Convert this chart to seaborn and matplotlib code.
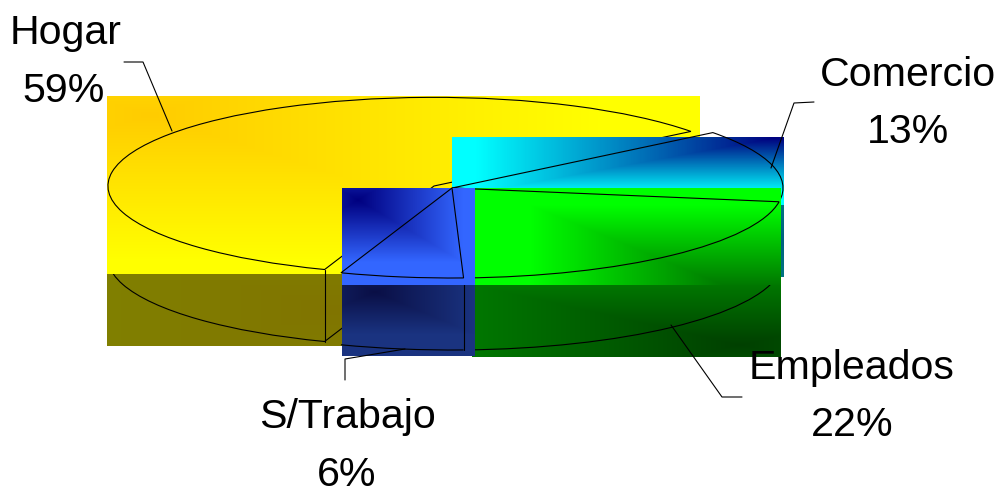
import numpy as np
import matplotlib
matplotlib.use("Agg")
import matplotlib.pyplot as plt
from matplotlib.patches import Arc
import seaborn as sns

categories = ["Hogar", "S/Trabajo", "Empleados", "Comercio"]
values = [59, 6, 22, 13]

sns.set_theme(style="white")
plt.rcParams["font.family"] = ["Liberation Sans", "DejaVu Sans"]

W, H = 1000, 491
# pie centre and radii in picture pixels, the unit circle becomes this ellipse
CX, CY, RX, RY = 452, 188, 331, 90
DEPTH = 72 / RY
HOGAR_R = 0.985


def ux(x):
    return (x - CX) / RX


def uy(y):
    return (CY - y) / RY


def gradient(ax, box, centre, reach, c0, c1, z):
    # rectangular path gradient like the old office export
    x0, x1, y0, y1 = box
    xx, yy = np.meshgrid(np.arange(x0, x1) + 0.5, np.arange(y0, y1) + 0.5)
    t = np.maximum(np.abs(xx - centre[0]) / reach[0], np.abs(yy - centre[1]) / reach[1])
    cmap = sns.blend_palette([c0, c1], as_cmap=True)
    ax.imshow(np.clip(t, 0, 1), cmap=cmap, vmin=0, vmax=1, aspect="auto", interpolation="nearest",
              extent=(ux(x0), ux(x1), uy(y1), uy(y0)), zorder=z)


fig = plt.figure(figsize=(W / 100, H / 100), dpi=100)
ax = fig.add_axes([0, 0, 1, 1])

wedges, _ = ax.pie(values, startangle=38,
                   wedgeprops=dict(facecolor="none", edgecolor="black", linewidth=0.8))
low_wedges, _ = ax.pie(values, startangle=38, center=(0, -DEPTH),
                       wedgeprops=dict(facecolor="none", edgecolor="black", linewidth=0.8))
hogar, strabajo, empleados, comercio = wedges

# Hogar slice sits a little off the others
hx, hy = ux(434), uy(186)
hogar.set_center((hx, hy))
hogar.set_radius(HOGAR_R)
low_wedges[0].set_center((hx, hy - DEPTH))
low_wedges[0].set_radius(HOGAR_R)
for w in low_wedges[1:]:
    w.set_visible(False)

# Hogar layer
gradient(ax, (107, 342, 274, 346), (340, 310), (240, 60), "#807400", "#808000", 1)
low_wedges[0].set_zorder(2)
gradient(ax, (107, 700, 96, 274), (150, 115), (450, 145), "#ffcc00", "#ffff00", 3)
hogar.set_zorder(4)
tip = np.radians(hogar.theta2)
tip_x = hx + HOGAR_R * np.cos(tip)
tip_y = hy + HOGAR_R * np.sin(tip)
ax.plot([tip_x, tip_x], [tip_y, tip_y - DEPTH], color="black", lw=0.8, zorder=4)

# Comercio layer
gradient(ax, (452, 784, 205, 277), (770, 240), (300, 60), "#006080", "#008080", 5)
gradient(ax, (452, 784, 137, 205), (775, 138), (300, 55), "#000080", "#00ffff", 6)
comercio.set_zorder(7)

# Empleados layer
gradient(ax, (472, 781, 285, 357), (740, 345), (310, 70), "#004000", "#008000", 8)
ax.add_patch(Arc((0, -DEPTH), 2, 2, theta1=empleados.theta1, theta2=empleados.theta2,
                 color="black", lw=0.8, zorder=9))
gradient(ax, (474, 781, 188, 285), (760, 300), (230, 95), "#006000", "#00ff00", 10)
empleados.set_zorder(11)

# S/Trabajo layer
gradient(ax, (342, 475, 285, 356), (375, 292), (100, 42), "#0a0f46", "#1a3380", 12)
ax.add_patch(Arc((0, -DEPTH), 2, 2, theta1=strabajo.theta1, theta2=strabajo.theta2,
                 color="black", lw=0.8, zorder=13))
end = np.radians(strabajo.theta2)
ax.plot([np.cos(end)] * 2, [np.sin(end), np.sin(end) - DEPTH], color="black", lw=0.8, zorder=13)
gradient(ax, (342, 475, 188, 285), (358, 200), (105, 62), "#000080", "#3366ff", 14)
strabajo.set_zorder(15)

# leader lines
leaders = [
    ([124, 143, 172], [62, 62, 131]),
    ([345, 345, 405], [380, 359, 349]),
    ([742, 722, 671], [397, 397, 325]),
    ([814, 794, 771], [102, 103, 168]),
]
for lx, ly in leaders:
    ax.plot(ux(np.array(lx)), uy(np.array(ly)), color="black", lw=0.8, zorder=20)

# labels, baselines
name_pos = [(66, 44), (347, 428), (852, 379), (908, 86)]
pct_pos = [(64, 102), (347, 486), (852, 436), (908, 143)]
for cat, val, np_, pp in zip(categories, values, name_pos, pct_pos):
    ax.text(ux(np_[0]), uy(np_[1]), cat, fontsize=29.6, color="black", ha="center", va="baseline", zorder=21)
    ax.text(ux(pp[0]), uy(pp[1]), f"{val}%", fontsize=29.6, color="black", ha="center", va="baseline", zorder=21)

ax.set_aspect("auto")
ax.set_xlim(ux(0), ux(W))
ax.set_ylim(uy(H), uy(0))
ax.axis("off")
fig.savefig("out.png", dpi=100, facecolor="white")
